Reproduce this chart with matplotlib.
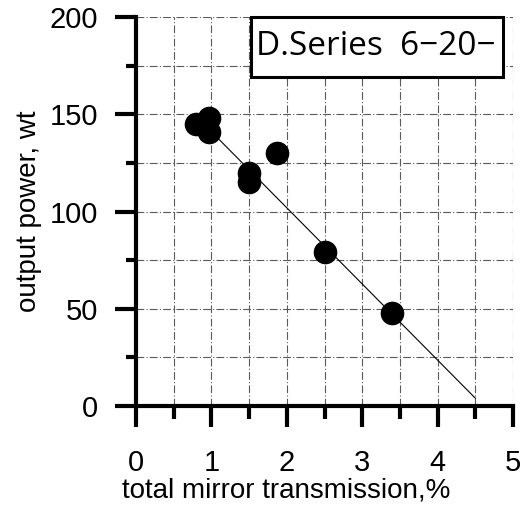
import numpy as np
import matplotlib
matplotlib.use('Agg')
import matplotlib.pyplot as plt
from matplotlib.patches import Rectangle
from matplotlib.ticker import MultipleLocator

# measured points
transmission = [0.8, 0.97, 0.97, 1.5, 1.5, 1.87, 2.5, 3.4]
power = [145, 148, 141, 120, 115, 130, 79, 48]

# fitted line ends
fit_x = [0.95, 4.5]
fit_y = [143, 4]

x_ticks = [0, 1, 2, 3, 4, 5]
y_ticks = [0, 50, 100, 150, 200]
label_text = 'D.Series  6\u221220\u2212'

plt.rcParams['font.family'] = ['Liberation Sans', 'DejaVu Sans']

fig = plt.figure(figsize=(5.29, 5.14), dpi=100)
ax = fig.add_axes([0.257, 0.210, 0.713, 0.757])

ax.set_xlim(0, 5)
ax.set_ylim(0, 200)

# dash-dot grid
gl = dict(color='0.35', lw=0.8, linestyle=(0, (7, 2, 1, 2)), zorder=1)
for gx in np.arange(0.5, 5.01, 0.5):
    ax.axvline(gx, **gl)
for gy in np.arange(25, 200.1, 25):
    ax.axhline(gy, **gl)

ax.plot(fit_x, fit_y, color='black', lw=0.8, zorder=2)
ax.plot(transmission, power, 'o', color='black', markersize=16, zorder=3)

for s in ['top', 'right']:
    ax.spines[s].set_visible(False)
for s in ['left', 'bottom']:
    ax.spines[s].set_linewidth(3)

ax.xaxis.set_minor_locator(MultipleLocator(0.5))
ax.yaxis.set_minor_locator(MultipleLocator(25))
ax.set_xticks(x_ticks)
ax.set_yticks(y_ticks)

ax.tick_params(axis='x', which='major', direction='out', length=15, width=3, pad=16, labelsize=21)
ax.tick_params(axis='x', which='minor', direction='out', length=9, width=3)
ax.tick_params(axis='y', which='major', direction='out', length=15, width=3, pad=12, labelsize=21)
ax.tick_params(axis='y', which='minor', direction='out', length=7, width=3)

ax.set_xlabel('total mirror transmission,%', fontsize=20, va='baseline')
ax.xaxis.set_label_coords(0.397, -0.234)
ax.set_ylabel('output power, wt', fontsize=20, va='center')
ax.yaxis.set_label_coords(-0.283, 0.5)

# label box
ax.add_patch(Rectangle((1.53, 169), 3.34, 31, fc='white', ec='black', lw=2.2, zorder=5, clip_on=False))
ax.text(3.18, 180.5, label_text, ha='center', va='baseline',
        fontsize=24, family=['Open Sans', 'DejaVu Sans'], zorder=6)

fig.savefig('out.png', dpi=100)
